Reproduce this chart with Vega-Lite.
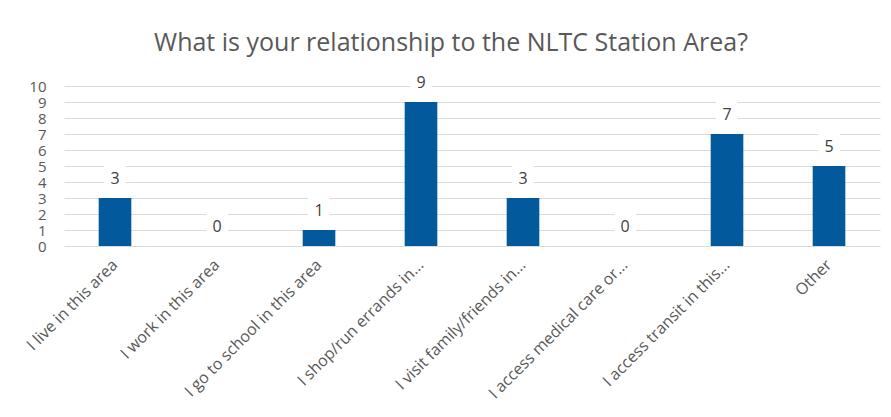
{
  "$schema": "https://vega.github.io/schema/vega-lite/v6.json",
  "width": 816,
  "height": 160,
  "autosize": {"type": "none"},
  "padding": {"left": 64, "top": 86, "right": 11, "bottom": 171},
  "background": "white",
  "title": {
    "text": "What is your relationship to the NLTC Station Area?",
    "font": "Open Sans",
    "fontSize": 25,
    "fontWeight": "normal",
    "color": "#595959",
    "anchor": "middle",
    "dx": -21,
    "offset": 13
  },
  "config": {
    "view": {"stroke": null},
    "font": "Open Sans"
  },
  "data": {
    "values": [
      {"category": "I live in this area", "count": 3},
      {"category": "I work in this area", "count": 0},
      {"category": "I go to school in this area", "count": 1},
      {"category": "I shop/run errands in...", "count": 9},
      {"category": "I visit family/friends in...", "count": 3},
      {"category": "I access medical care or...", "count": 0},
      {"category": "I access transit in this...", "count": 7},
      {"category": "Other", "count": 5}
    ]
  },
  "encoding": {
    "x": {
      "field": "category",
      "type": "nominal",
      "sort": null,
      "scale": {"paddingInner": 0.68, "paddingOuter": 0.34},
      "axis": {
        "title": null,
        "labelAngle": -45,
        "labelAlign": "right",
        "labelBaseline": "middle",
        "labelFontSize": 16,
        "labelColor": "#595959",
        "labelPadding": 16,
        "labelLimit": 300,
        "domain": false,
        "ticks": false
      }
    },
    "y": {
      "field": "count",
      "type": "quantitative",
      "scale": {"domain": [0, 10], "nice": false},
      "axis": {
        "title": null,
        "values": [0, 1, 2, 3, 4, 5, 6, 7, 8, 9, 10],
        "domain": false,
        "ticks": false,
        "grid": true,
        "gridColor": "#d9d9d9",
        "gridWidth": 1,
        "labelFontSize": 15,
        "labelColor": "#595959",
        "labelPadding": 18,
        "labelOverlap": false
      }
    }
  },
  "layer": [
    {"mark": {"type": "bar", "color": "#025a9c"}},
    {
      "mark": {
        "type": "point",
        "shape": "M-0.9,-1.2L0.9,-1.2L0.9,1.2L-0.9,1.2Z",
        "size": 576,
        "filled": true,
        "color": "white",
        "opacity": 1,
        "yOffset": -19
      }
    },
    {
      "mark": {
        "type": "text",
        "dy": -19,
        "fontSize": 16,
        "color": "#404040",
        "baseline": "middle"
      },
      "encoding": {"text": {"field": "count", "type": "quantitative"}}
    }
  ]
}
